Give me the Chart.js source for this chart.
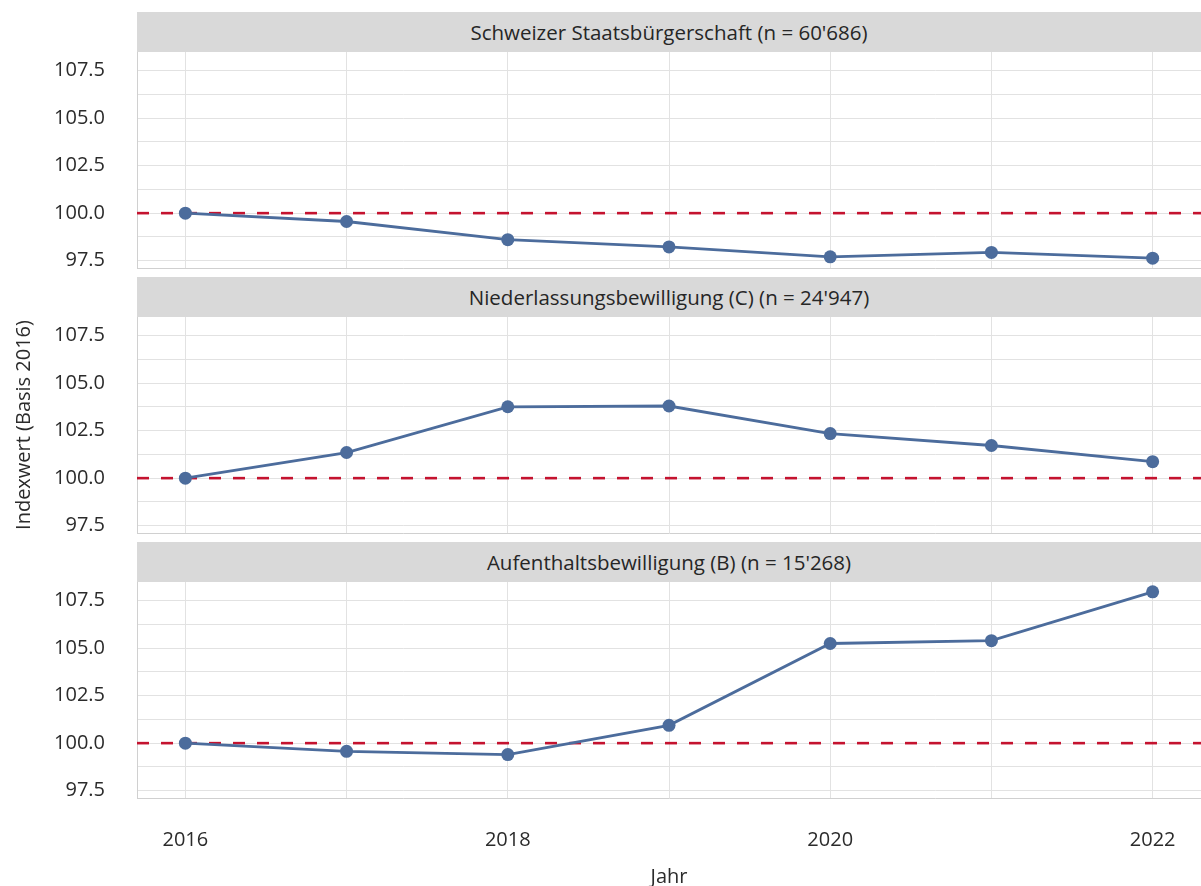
<!DOCTYPE html>
<html lang="de">
<head>
<meta charset="utf-8">
<title>Indexwert nach Aufenthaltsstatus</title>
<script src="https://cdn.jsdelivr.net/npm/chart.js@4.4.0/dist/chart.umd.min.js"></script>
<style>
  body { margin: 0; background: #fff; font-family: 'Open Sans', sans-serif; }
  #wrap { position: relative; width: 1201px; height: 886px; overflow: hidden; }
  .strip {
    position: absolute; left: 137px; width: 1064px; height: 40px; line-height: 40px;
    background: #d9d9d9; color: #262626; font-size: 20.5px; text-align: center;
  }
  .panel { position: absolute; left: 0; }
</style>
</head>
<body>
<div id="wrap"></div>
<script>
// Daten
const years = [2016, 2017, 2018, 2019, 2020, 2021, 2022];
const schweizer = [100, 99.56, 98.6, 98.22, 97.7, 97.93, 97.63];
const niederlassung = [100, 101.35, 103.76, 103.8, 102.35, 101.72, 100.87];
const aufenthalt = [100, 99.57, 99.4, 100.94, 105.25, 105.4, 107.97];
const panelTitles = [
  "Schweizer Staatsbürgerschaft (n = 60'686)",
  "Niederlassungsbewilligung (C) (n = 24'947)",
  "Aufenthaltsbewilligung (B) (n = 15'268)"
];
const yMajorTicks = [97.5, 100, 102.5, 105, 107.5];
const yMinorTicks = [98.75, 101.25, 103.75, 106.25];
const xLabelYears = [2016, 2018, 2020, 2022];
const basisWert = 100;

// Achsenbereich (wie ggplot mit 5% Rand)
const X_MIN = 2015.7, X_MAX = 2022.3;
const Y_MIN = 97.11, Y_MAX = 108.49;

const blau = '#4c6c9c';
const rot = '#c4132f';
const gitter = '#e2e2e2';
const rahmen = '#d0d0d0';
const textFarbe = '#2b2b2b';
const schrift = { family: "'Open Sans', sans-serif", size: 20 };

const wrap = document.getElementById('wrap');

function makePanel(idx, values) {
  const top = 12 + idx * 265;
  const last = idx === 2;

  const strip = document.createElement('div');
  strip.className = 'strip';
  strip.style.top = top + 'px';
  strip.textContent = panelTitles[idx];
  wrap.appendChild(strip);

  const box = document.createElement('div');
  box.className = 'panel';
  box.style.top = (top + 40) + 'px';
  const h = last ? 310 : 225;
  box.innerHTML = `<canvas width="1201" height="${h}"></canvas>`;
  wrap.appendChild(box);

  new Chart(box.querySelector('canvas'), {
    type: 'line',
    data: {
      datasets: [
        {
          data: years.map((y, i) => ({ x: y, y: values[i] })),
          borderColor: blau,
          backgroundColor: blau,
          borderWidth: 2.8,
          pointRadius: 6.5,
          pointBorderWidth: 0,
          tension: 0
        },
        {
          data: [{ x: X_MIN, y: basisWert }, { x: X_MAX, y: basisWert }],
          borderColor: rot,
          borderWidth: 2.6,
          borderDash: [12, 12],
          pointRadius: 0
        }
      ]
    },
    options: {
      responsive: false,
      animation: false,
      events: [],
      layout: { padding: 0, autoPadding: false },
      plugins: { legend: { display: false }, tooltip: { enabled: false } },
      scales: {
        x: {
          type: 'linear',
          min: X_MIN,
          max: X_MAX,
          afterBuildTicks: s => { s.ticks = years.map(v => ({ value: v })); },
          afterFit: s => { s.height = last ? 94 : 9; s.paddingLeft = 0; s.paddingRight = 0; },
          grid: { color: gitter, lineWidth: 1, drawTicks: false },
          border: { display: true, color: rahmen, width: 1 },
          ticks: {
            display: last,
            autoSkip: false,
            maxRotation: 0,
            padding: 30,
            font: schrift,
            color: textFarbe,
            callback: v => xLabelYears.includes(v) ? String(v) : ''
          },
          title: {
            display: last,
            text: 'Jahr',
            font: schrift,
            color: textFarbe,
            padding: { top: 0, bottom: 3 }
          }
        },
        y: {
          min: Y_MIN,
          max: Y_MAX,
          afterBuildTicks: s => {
            s.ticks = yMajorTicks.concat(yMinorTicks).sort((a, b) => a - b).map(v => ({ value: v }));
          },
          afterFit: s => { s.width = 137; s.paddingTop = 0; s.paddingBottom = 0; },
          grid: { color: gitter, lineWidth: 1, drawTicks: false },
          border: { display: true, color: rahmen, width: 1 },
          ticks: {
            autoSkip: false,
            padding: 32,
            font: schrift,
            color: textFarbe,
            callback: v => yMajorTicks.includes(v) ? v.toFixed(1) : ''
          },
          title: {
            display: idx === 1,
            text: 'Indexwert (Basis 2016)',
            font: schrift,
            color: textFarbe,
            padding: { top: 12, bottom: 0 }
          }
        }
      }
    }
  });
}

makePanel(0, schweizer);
makePanel(1, niederlassung);
makePanel(2, aufenthalt);
</script>
</body>
</html>
